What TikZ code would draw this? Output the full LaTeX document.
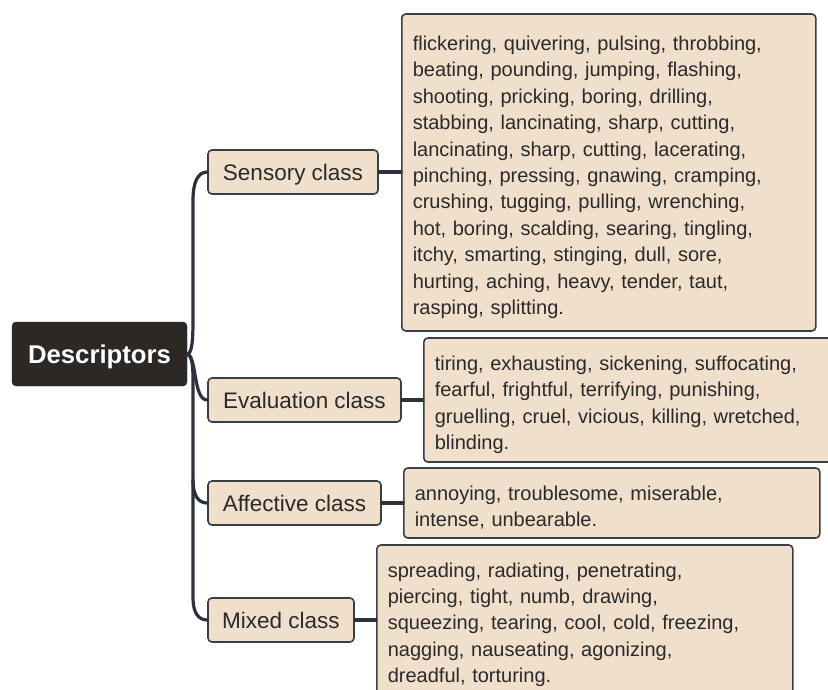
\documentclass[tikz,border=0pt]{standalone}
\usepackage{fontspec}
\setmainfont{Liberation Sans}
\definecolor{beige}{HTML}{EFDFCB}
\definecolor{bordc}{HTML}{3B3E47}
\definecolor{connc}{HTML}{2C313C}
\definecolor{rootc}{HTML}{2B2825}
\definecolor{txtc}{HTML}{2A2A2A}
\newcommand\tpstrut{\rule{0pt}{24pt}}
\begin{document}
\begin{tikzpicture}[x=1pt,y=-1pt,
  rootbox/.style={draw=rootc, fill=rootc, rounded corners=4pt, text=white, font=\fontsize{25.7}{30}\selectfont\bfseries, minimum height=64pt, inner sep=0pt, text height=18pt, text depth=0pt},
  classbox/.style={draw=bordc, line width=1.6pt, fill=beige, rounded corners=4pt, text=txtc, font=\fontsize{22.5}{27}\selectfont, minimum height=44pt, inner sep=0pt, text height=16pt, text depth=0pt},
  detailbox/.style={draw=bordc, line width=1.6pt, fill=beige, rounded corners=4pt, text=txtc, font=\fontsize{20}{26.4}\selectfont, align=left, inner xsep=11pt, inner ysep=0pt, anchor=west},
  conn/.style={draw=connc, line width=3.2pt, line cap=round}
]
\useasboundingbox (0,0) rectangle (828,689);

\node[rootbox, minimum width=175pt] (D) at (99.5,354) {Descriptors};

\node[classbox, minimum width=170pt] (S) at (293,172) {Sensory class};
\node[classbox, minimum width=193pt] (E) at (304.5,400) {Evaluation class};
\node[classbox, minimum width=173pt] (A) at (294.5,503) {Affective class};
\node[classbox, minimum width=146pt] (M) at (281,620) {Mixed class};

\node[detailbox, text width=392pt, minimum height=317pt] (SD) at (401,172.5) {\tpstrut flickering, quivering, pulsing, throbbing,\\beating, pounding, jumping, flashing,\\shooting, pricking, boring, drilling,\\stabbing, lancinating, sharp, cutting,\\lancinating, sharp, cutting, lacerating,\\pinching, pressing, gnawing, cramping,\\crushing, tugging, pulling, wrenching,\\hot, boring, scalding, searing, tingling,\\itchy, smarting, stinging, dull, sore,\\hurting, aching, heavy, tender, taut,\\rasping, splitting.};
\node[detailbox, text width=400pt, minimum height=124pt] (ED) at (423,400) {\tpstrut tiring, exhausting, sickening, suffocating,\\fearful, frightful, terrifying, punishing,\\gruelling, cruel, vicious, killing, wretched,\\blinding.};
\node[detailbox, text width=394pt, minimum height=70pt] (AD) at (403,503) {\tpstrut annoying, troublesome, miserable,\\intense, unbearable.};
\node[detailbox, text width=394pt, minimum height=150pt] (MD) at (376,620) {\tpstrut spreading, radiating, penetrating,\\piercing, tight, numb, drawing,\\squeezing, tearing, cool, cold, freezing,\\nagging, nauseating, agonizing,\\dreadful, torturing.};

\draw[conn] (D.east) .. controls (192,354) and (193,340) .. (193,320) -- (193,200) .. controls (193,182) and (198,172) .. (S.west);
\draw[conn] (D.east) .. controls (197,356) and (193,400) .. (E.west);
\draw[conn] (D.east) .. controls (192,356) and (193,365) .. (193,380) -- (193,480) .. controls (193,495) and (198,503) .. (A.west);
\draw[conn] (193,480) -- (193,598) .. controls (193,612) and (198,620) .. (M.west);

\draw[conn] (S.east) -- (S.east -| SD.west);
\draw[conn] (E.east) -- (E.east -| ED.west);
\draw[conn] (A.east) -- (A.east -| AD.west);
\draw[conn] (M.east) -- (M.east -| MD.west);
\end{tikzpicture}
\end{document}
